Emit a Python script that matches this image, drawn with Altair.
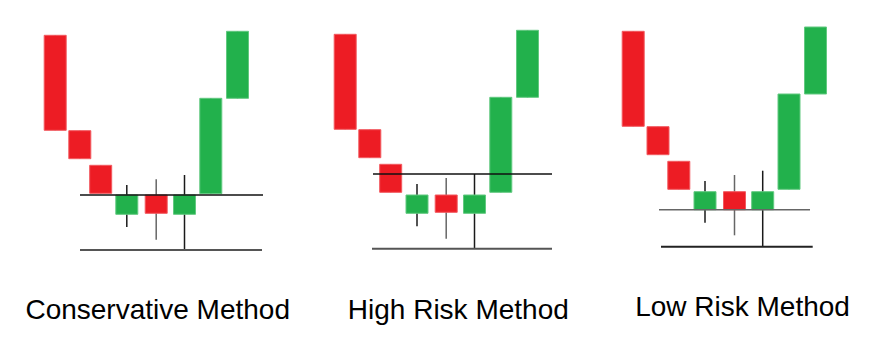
import altair as alt
import pandas as pd

titles = ["Conservative Method", "High Risk Method", "Low Risk Method"]

# candle time positions, per panel
times = [
    [47.2, 71.8, 92.7, 118.8, 148.2, 176.5, 202.8, 229.5],
    [48.2, 72.8, 93.7, 120.0, 149.2, 177.5, 203.8, 230.5],
    [47.2, 72.0, 92.8, 119.0, 148.5, 176.7, 203.0, 229.5],
]
opens = [
    [232.7, 137.3, 102.7, 53.7, 73.0, 53.7, 74.3, 169.7],
    [233.7, 138.3, 103.7, 54.7, 73.0, 54.7, 75.7, 170.7],
    [236.7, 141.3, 106.7, 58.3, 76.3, 58.3, 78.7, 174.0],
]
closes = [
    [137.7, 109.3, 74.7, 73.0, 54.7, 73.0, 169.7, 236.7],
    [138.7, 110.3, 75.7, 73.0, 55.7, 73.0, 170.7, 237.7],
    [141.7, 113.3, 78.7, 76.3, 58.3, 76.3, 174.0, 241.0],
]
highs = [
    [232.7, 137.3, 102.7, 83.0, 88.7, 93.0, 169.7, 236.7],
    [233.7, 138.3, 103.7, 84.0, 90.0, 94.0, 170.7, 237.7],
    [236.7, 141.3, 106.7, 87.0, 93.0, 97.3, 174.0, 241.0],
]
lows = [
    [137.7, 109.3, 74.7, 41.0, 28.3, 18.0, 74.3, 169.7],
    [138.7, 110.3, 75.7, 41.7, 29.3, 19.3, 75.7, 170.7],
    [141.7, 113.3, 78.7, 45.3, 32.7, 21.3, 78.7, 174.0],
]
level_names = ["entry", "stop"]
level_prices = [[73.0, 18.0], [94.0, 19.3], [58.3, 21.3]]
level_start = [[72.0, 72.0], [76.0, 75.0], [73.0, 75.0]]
level_end = [[255.0, 254.0], [255.0, 255.0], [224.0, 226.7]]

W, H = 270, 260
title_dx = [14.7, 26.3, 21.5]
title_offset = [51.3, 51.3, 48.0]
level_colors = [["#111111", "#555555"], ["#111111", "#555555"], ["#666666", "#222222"]]

xs = alt.Scale(domain=[0, W], nice=False, zero=False)
ys = alt.Scale(domain=[0, H], nice=False, zero=False)
dir_dom = ["up", "down"]


def panel(i):
    df = pd.DataFrame({
        "t": times[i], "open": opens[i], "close": closes[i],
        "high": highs[i], "low": lows[i],
    })
    df["dir"] = ["up" if c >= o else "down" for o, c in zip(df["open"], df["close"])]
    base = alt.Chart(df)
    wick = base.mark_rule(strokeWidth=1.5).encode(
        x=alt.X("t:Q", scale=xs, axis=None),
        y=alt.Y("low:Q", scale=ys, axis=None),
        y2="high:Q",
        color=alt.Color("dir:N", scale=alt.Scale(domain=dir_dom, range=["#1a1a1a", "#666666"]), legend=None),
    )
    body = base.transform_calculate(
        left="datum.t - 11", right="datum.t + 11"
    ).mark_rect(strokeWidth=1).encode(
        x=alt.X("left:Q", scale=xs, axis=None),
        x2="right:Q",
        y=alt.Y("open:Q", scale=ys, axis=None),
        y2="close:Q",
        fill=alt.Fill("dir:N", scale=alt.Scale(domain=dir_dom, range=["#22B14C", "#ED1C24"]), legend=None),
        stroke=alt.Stroke("dir:N", scale=alt.Scale(domain=dir_dom, range=["#62C980", "#F2595F"]), legend=None),
    )
    lv = pd.DataFrame({
        "name": level_names, "price": level_prices[i],
        "start": level_start[i], "end": level_end[i],
    })
    levels = alt.Chart(lv).mark_rule().encode(
        x=alt.X("start:Q", scale=xs, axis=None),
        x2="end:Q",
        y=alt.Y("price:Q", scale=ys, axis=None),
        color=alt.Color("name:N", scale=alt.Scale(domain=level_names, range=level_colors[i]), legend=None),
        strokeWidth=alt.StrokeWidth("name:N", scale=alt.Scale(domain=level_names, range=[1.5, 2.0]), legend=None),
    )
    return alt.layer(wick, body, levels).properties(
        width=W, height=H,
        title=alt.TitleParams(
            text=titles[i], orient="bottom", anchor="middle",
            dx=title_dx[i], offset=title_offset[i], baseline="alphabetic",
            font="Liberation Sans", fontSize=28, fontWeight="normal", color="#000000",
        ),
    ).resolve_scale(color="independent")


chart = alt.hconcat(panel(0), panel(1), panel(2), spacing=19, bounds="flush").properties(
    padding=0, background="white"
).configure_view(strokeWidth=0)

chart.save("out.html", embed_options={"renderer": "svg", "actions": False})
